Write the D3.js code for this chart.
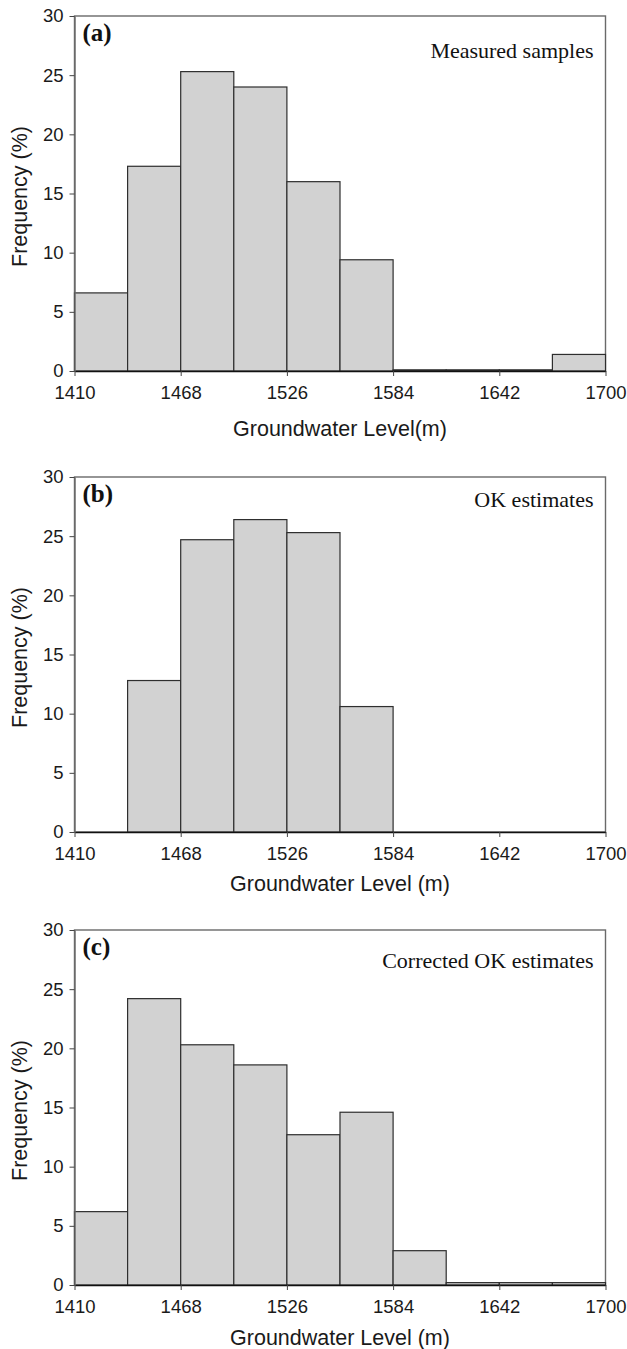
<!DOCTYPE html>
<html>
<head>
<meta charset="utf-8">
<script src="https://cdn.jsdelivr.net/npm/d3@7"></script>
<style>
  html, body { margin: 0; padding: 0; background: #fff; }
  svg { display: block; }
</style>
</head>
<body>
<svg id="chart" width="627" height="1349"></svg>
<script>
// bin edges and tick labels (Groundwater Level, m)
var binEdges = [1410, 1439, 1468, 1497, 1526, 1555, 1584, 1613, 1642, 1671, 1700];
var xTicks = [1410, 1468, 1526, 1584, 1642, 1700];
var yTicks = [0, 5, 10, 15, 20, 25, 30];

// frequency (%) for each bin
var measured = [6.6, 17.3, 25.3, 24.0, 16.0, 9.4, 0.1, 0.1, 0.1, 1.4];
var okEstimates = [0, 12.8, 24.7, 26.4, 25.3, 10.6, 0, 0, 0, 0];
var corrected = [6.2, 24.2, 20.3, 18.6, 12.7, 14.6, 2.9, 0.2, 0.2, 0.2];

var panelLabels = ["(a)", "(b)", "(c)"];
var panelNotes = ["Measured samples", "OK estimates", "Corrected OK estimates"];
var xTitles = ["Groundwater Level(m)", "Groundwater Level (m)", "Groundwater Level (m)"];

var SANS = "'Liberation Sans', Arial, Helvetica, sans-serif";
var SERIF = "'Liberation Serif', 'Times New Roman', serif";

var svg = d3.select("#chart");

var left = 74.5, right = 605.5;
var x = d3.scaleLinear().domain([1410, 1700]).range([left, right]);

/*
 * draw one histogram panel
 */
function drawPanel(values, idx, top, bottom, noteDy, titleDy) {
    var y = d3.scaleLinear().domain([0, 30]).range([bottom, top]);
    var g = svg.append("g").attr("class", "panel");

    // plot frame
    g.append("rect")
        .attr("x", left)
        .attr("y", top)
        .attr("width", right - left)
        .attr("height", bottom - top)
        .attr("fill", "none")
        .attr("stroke", "#6a6a6a")
        .attr("stroke-width", 1.4);

    // bars
    g.selectAll("rect.bar")
        .data(values)
        .enter().append("rect")
        .attr("class", "bar")
        .attr("x", function(d, i) { return x(binEdges[i]); })
        .attr("y", function(d) { return y(d); })
        .attr("width", function(d, i) { return x(binEdges[i + 1]) - x(binEdges[i]); })
        .attr("height", function(d) { return y(0) - y(d); })
        .attr("fill", "#d2d2d2")
        .attr("stroke", "#2e2e2e")
        .attr("stroke-width", 1.2);

    // x axis
    var xAxis = g.append("g")
        .attr("transform", "translate(0," + bottom + ")")
        .call(d3.axisBottom(x).tickValues(xTicks).tickFormat(d3.format("d"))
            .tickSize(5).tickPadding(10).tickSizeOuter(0));
    xAxis.select(".domain").attr("stroke", "#111").attr("stroke-width", 1.6);
    xAxis.selectAll(".tick line").attr("stroke", "#444");
    xAxis.selectAll("text")
        .attr("fill", "#1a1a1a")
        .style("font-family", SANS)
        .style("font-size", "18.5px");

    // y axis
    var yAxis = g.append("g")
        .attr("transform", "translate(" + left + ",0)")
        .call(d3.axisLeft(y).tickValues(yTicks).tickSize(5).tickPadding(6).tickSizeOuter(0));
    yAxis.select(".domain").attr("stroke", "#6a6a6a").attr("stroke-width", 1.4);
    yAxis.selectAll(".tick line").attr("stroke", "#444");
    yAxis.selectAll("text")
        .attr("fill", "#1a1a1a")
        .style("font-family", SANS)
        .style("font-size", "18.5px");

    // panel label and note
    g.append("text")
        .attr("x", left + 8)
        .attr("y", top + 25)
        .attr("fill", "#111")
        .style("font-family", SERIF)
        .style("font-weight", "bold")
        .style("font-size", "25px")
        .text(panelLabels[idx]);
    g.append("text")
        .attr("x", right - 12)
        .attr("y", top + noteDy)
        .attr("text-anchor", "end")
        .attr("fill", "#111")
        .style("font-family", SERIF)
        .style("font-size", "22px")
        .text(panelNotes[idx]);

    // axis titles
    g.append("text")
        .attr("x", (left + right) / 2)
        .attr("y", bottom + titleDy)
        .attr("text-anchor", "middle")
        .attr("fill", "#1a1a1a")
        .style("font-family", SANS)
        .style("font-size", "21.5px")
        .text(xTitles[idx]);
    g.append("text")
        .attr("transform", "translate(27," + ((top + bottom) / 2 + 3) + ") rotate(-90)")
        .attr("text-anchor", "middle")
        .attr("fill", "#1a1a1a")
        .style("font-family", SANS)
        .style("font-size", "21.5px")
        .text("Frequency (%)");
}

drawPanel(measured, 0, 16, 371, 42, 65);
drawPanel(okEstimates, 1, 477, 832, 30, 59);
drawPanel(corrected, 2, 930, 1285, 38, 60);
</script>
</body>
</html>
